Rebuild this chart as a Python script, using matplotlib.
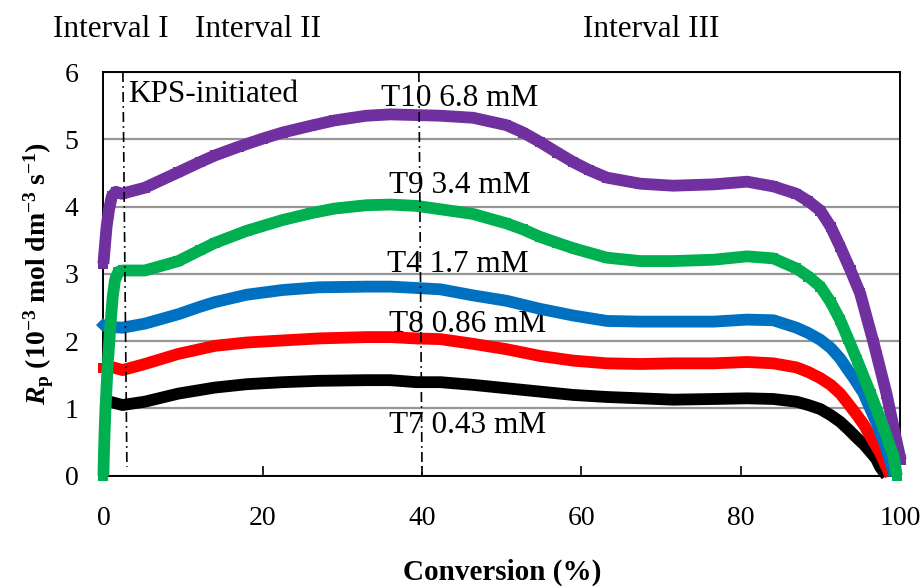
import matplotlib
matplotlib.use("Agg")
import matplotlib.pyplot as plt

plt.rcParams["font.family"] = ["Liberation Serif", "DejaVu Serif"]
plt.rcParams["mathtext.fontset"] = "custom"
plt.rcParams["mathtext.rm"] = "Liberation Serif"
plt.rcParams["mathtext.it"] = "Liberation Serif:italic"
plt.rcParams["mathtext.bf"] = "Liberation Serif:bold"
plt.rcParams["mathtext.bfit"] = "Liberation Serif:bold:italic"

# Polymerization rate vs. conversion for five KPS concentrations
t10_x = [0, 0.4, 0.7, 1.05, 1.55, 2.3, 5.2, 9.4, 12.1, 14, 17, 20, 22.5, 26, 29, 33,
         36, 39.3, 42.3, 46.4, 50.6, 52.7, 54.8, 57, 59, 61, 63.2, 67.4, 71.5, 76.6,
         80.8, 84.1, 87, 88.5, 90, 91.3, 92.5, 93.8, 95, 96.7, 98.3, 99.6, 100.1]
t10_y = [3.15, 3.70, 3.95, 4.15, 4.22, 4.19, 4.28, 4.51, 4.66, 4.76, 4.89, 5.01, 5.10,
         5.20, 5.28, 5.35, 5.37, 5.36, 5.35, 5.32, 5.21, 5.10, 4.96, 4.80, 4.66, 4.54,
         4.43, 4.34, 4.31, 4.33, 4.37, 4.30, 4.19, 4.08, 3.94, 3.70, 3.40, 3.05, 2.71,
         1.97, 1.22, 0.49, 0.23]

t9_x = [0, 0.08, 0.16, 0.25, 0.38, 0.5, 0.67, 0.84, 1.0, 1.17, 1.46, 1.88, 2.4, 5.2,
        9.4, 12.1, 14, 18, 22.5, 26, 29, 33, 36, 39.3, 42.3, 46.4, 50.6, 52.7, 54.8,
        57, 59, 63.2, 67.4, 71.5, 76.6, 80.8, 84.1, 87, 88.5, 90, 91.3, 92.5, 93.5,
        94.6, 96.3, 97.9, 99.2, 99.6]
t9_y = [0.0, 0.38, 0.68, 0.98, 1.27, 1.57, 1.87, 2.17, 2.41, 2.66, 2.91, 3.03, 3.05,
        3.05, 3.19, 3.35, 3.46, 3.64, 3.80, 3.90, 3.97, 4.02, 4.03, 4.01, 3.96, 3.89,
        3.75, 3.66, 3.55, 3.46, 3.38, 3.24, 3.19, 3.19, 3.21, 3.26, 3.23, 3.08, 2.96,
        2.81, 2.58, 2.31, 2.03, 1.72, 1.22, 0.73, 0.28, 0.0]

t4_x = [0, 0.9, 2.4, 5.2, 9.4, 12.1, 14, 18, 22.5, 27, 33, 36, 39.3, 42.3, 46.4, 50.6,
        54.8, 59, 63.2, 67.4, 71.5, 76.6, 80.8, 84.1, 87, 88.5, 90, 91.3, 92.5, 93.3,
        94.2, 95.4, 97, 98.3, 99.3]
t4_y = [2.24, 2.21, 2.20, 2.26, 2.40, 2.51, 2.58, 2.69, 2.76, 2.80, 2.81, 2.81, 2.79,
        2.77, 2.68, 2.60, 2.48, 2.38, 2.30, 2.29, 2.29, 2.29, 2.32, 2.31, 2.20, 2.12,
        2.02, 1.90, 1.74, 1.60, 1.45, 1.23, 0.80, 0.40, 0.0]

t8_x = [0, 0.9, 2.4, 5.2, 9.4, 14, 18, 22.5, 27, 33, 36, 39.3, 42.3, 46.4, 50.6, 54.8,
        59, 63.2, 67.4, 71.5, 76.6, 80.8, 84.1, 87, 88.5, 90, 91.3, 92.5, 93.5, 94.6,
        95.5, 96.3, 97.5, 98.8]
t8_y = [1.60, 1.62, 1.57, 1.66, 1.81, 1.93, 1.98, 2.01, 2.04, 2.06, 2.06, 2.04, 2.03,
        1.96, 1.88, 1.78, 1.71, 1.67, 1.66, 1.67, 1.67, 1.69, 1.67, 1.61, 1.54, 1.45,
        1.35, 1.22, 1.07, 0.90, 0.75, 0.58, 0.34, 0.0]

t7_x = [0.3, 0.8, 2.4, 5.2, 9.4, 14, 18, 22.5, 27, 33, 36, 39.3, 42.3, 46.4, 50.6, 54.8,
        59, 63.2, 67.4, 71.5, 76.6, 80.8, 84.1, 87, 88.5, 90, 91.3, 92.5, 93.5, 94.6,
        95.5, 96.3, 97, 97.5, 98.3]
t7_y = [1.12, 1.10, 1.05, 1.10, 1.22, 1.31, 1.36, 1.39, 1.41, 1.42, 1.42, 1.39, 1.39,
        1.35, 1.30, 1.25, 1.20, 1.17, 1.15, 1.13, 1.14, 1.15, 1.14, 1.10, 1.05, 0.99,
        0.90, 0.80, 0.69, 0.56, 0.46, 0.35, 0.25, 0.13, 0.0]

series_labels = ["T7 0.43 mM", "T8 0.86 mM", "T4 1.7 mM", "T10 6.8 mM", "T9 3.4 mM"]
series_colors = ["#000000", "#FF0000", "#0070C0", "#7030A0", "#00B050"]
series_markers = ["s", "s", "D", "s", "s"]
series_markevery = [[0], [0], [0], None, None]
series_x = [t7_x, t8_x, t4_x, t10_x, t9_x]
series_y = [t7_y, t8_y, t4_y, t10_y, t9_y]

# label anchor (conversion %, rate) for each series annotation
label_pos = [(35.8, 0.63), (35.8, 2.14), (35.6, 3.03), (34.9, 5.50), (35.8, 4.20)]

# boundaries between intervals (dash-dot guides, drawn slightly slanted)
guide1_x = [2.45, 2.95]
guide1_y = [6.0, 0.13]
guide2_x = [39.6, 40.0]
guide2_y = [6.0, 0.0]

interval_labels = ["Interval I", "Interval II", "Interval III"]
interval_px = [53, 195, 583]

fig = plt.figure(figsize=(9.24, 5.88), dpi=100)
ax = fig.add_axes([103.4 / 924, 1 - 475.7 / 588, (900 - 103.4) / 924, (475.7 - 72) / 588])

ax.set_xlim(0, 100)
ax.set_ylim(0, 6)
ax.set_xticks([0, 20, 40, 60, 80, 100])
ax.set_yticks([0, 1, 2, 3, 4, 5, 6])
ax.yaxis.grid(True, color="#969696", linewidth=1.6)
ax.set_axisbelow(True)
for sp in ax.spines.values():
    sp.set_linewidth(1.4)
    sp.set_color("black")
ax.tick_params(axis="x", direction="in", length=7, width=1.2, pad=22, labelsize=20)
ax.tick_params(axis="y", length=0, pad=18, labelsize=20)

for xs, ys, c, m, me in zip(series_x, series_y, series_colors, series_markers, series_markevery):
    ax.plot(xs, ys, color=c, linewidth=8.5, marker=m, markersize=7.5,
            markeredgewidth=0, markevery=me, solid_joinstyle="round",
            solid_capstyle="butt", clip_on=False, zorder=3)

ax.plot(guide1_x, guide1_y, color="black", linewidth=1.2, linestyle=(0, (6, 2.5, 1, 2.5)), zorder=4)
ax.plot(guide2_x, guide2_y, color="black", linewidth=1.2, linestyle=(0, (6, 2.5, 1, 2.5)), zorder=4)

for txt, (lx, ly) in zip(series_labels, label_pos):
    ax.text(lx, ly, txt, fontsize=22.5, ha="left", va="baseline", zorder=2)

ax.text(3.1, 5.55, "KPS-initiated", fontsize=22.5, ha="left", va="baseline", zorder=2)

for txt, px in zip(interval_labels, interval_px):
    fig.text(px / 924, 1 - 37 / 588, txt, fontsize=22.5, ha="left", va="baseline")

ax.set_xlabel("Conversion (%)", fontsize=21, fontweight="bold", labelpad=20)
ax.set_ylabel(r"$\mathbfit{R}_{\mathbf{p}}$$\mathbf{\ (10^{-3}\ mol\ dm^{-3}\ s^{-1})}$",
              fontsize=20, labelpad=6)

fig.savefig("out.png", dpi=100)
